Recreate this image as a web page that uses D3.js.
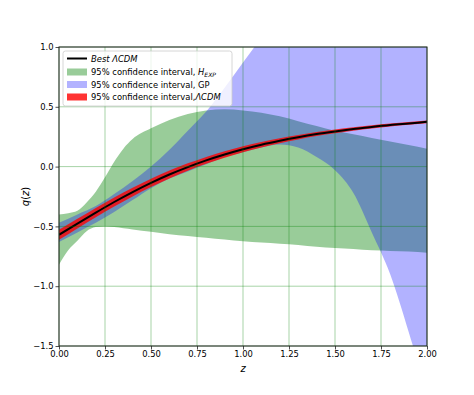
<!DOCTYPE html>
<html>
<head>
<meta charset="utf-8">
<script src="https://cdn.jsdelivr.net/npm/d3@7"></script>
<style>
  body { margin: 0; background: #fff; }
  svg text { font-family: "DejaVu Sans", sans-serif; fill: #000; }
</style>
</head>
<body>
<div id="chart"></div>
<script>
// redshift grid shared by the curves
var zs = [0, 0.1, 0.2, 0.3, 0.4, 0.5, 0.6, 0.7, 0.8, 0.9, 1.0, 1.1, 1.2, 1.3, 1.4, 1.5, 1.6, 1.7, 1.8, 1.9, 2.0];

// best fit LCDM deceleration parameter
var bestLcdm = [-0.570, -0.477, -0.385, -0.296, -0.213, -0.136, -0.066, -0.004, 0.052, 0.101, 0.145,
                0.183, 0.216, 0.246, 0.272, 0.294, 0.314, 0.332, 0.348, 0.361, 0.374];
// half width of the LCDM band
var lcdmErr = [0.042, 0.040, 0.039, 0.037, 0.036, 0.035, 0.033, 0.031, 0.029, 0.027, 0.025,
               0.023, 0.021, 0.019, 0.017, 0.016, 0.015, 0.014, 0.013, 0.012, 0.011];

// H_EXP band
var zExp = [0, 0.05, 0.1, 0.15, 0.2, 0.25, 0.3, 0.35, 0.4, 0.5, 0.6, 0.7, 0.8, 0.9, 1.0,
            1.1, 1.2, 1.3, 1.4, 1.5, 1.6, 1.7, 1.8, 1.9, 2.0];
var expUpper = [-0.40, -0.39, -0.37, -0.30, -0.21, -0.09, 0.04, 0.15, 0.23, 0.32, 0.39, 0.44, 0.47, 0.48, 0.47,
                0.45, 0.42, 0.38, 0.34, 0.30, 0.27, 0.24, 0.21, 0.18, 0.15];
var expLower = [-0.82, -0.70, -0.62, -0.54, -0.505, -0.50, -0.505, -0.515, -0.525, -0.545, -0.565, -0.58, -0.595, -0.61, -0.625,
                -0.635, -0.645, -0.655, -0.67, -0.68, -0.69, -0.70, -0.705, -0.71, -0.72];

// GP band
var gpUpper = [-0.47, -0.40, -0.33, -0.23, -0.12, 0.00, 0.14, 0.30, 0.46, 0.66, 0.87,
               1.08, 1.30, 1.52, 1.75, 1.98, 2.2, 2.4, 2.6, 2.8, 3.0];
var gpLower = [-0.63, -0.55, -0.47, -0.38, -0.28, -0.18, -0.10, -0.04, 0.02, 0.08, 0.12,
               0.16, 0.185, 0.16, 0.08, -0.03, -0.22, -0.55, -0.90, -1.38, -1.90];

var xTicks = [0, 0.25, 0.5, 0.75, 1.0, 1.25, 1.5, 1.75, 2.0];
var yTicks = [-1.5, -1.0, -0.5, 0.0, 0.5, 1.0];

var W = 474, H = 395;
var margin = {left: 59, right: 47, top: 47, bottom: 49};
var iw = W - margin.left - margin.right, ih = H - margin.top - margin.bottom;

var svg = d3.select("#chart").append("svg").attr("width", W).attr("height", H);
var g = svg.append("g").attr("transform", "translate(" + margin.left + "," + margin.top + ")");

var x = d3.scaleLinear().domain([0, 2]).range([0, iw]);
var y = d3.scaleLinear().domain([-1.5, 1.0]).range([ih, 0]);

g.append("clipPath").attr("id", "clip").append("rect").attr("width", iw).attr("height", ih);
var plot = g.append("g").attr("clip-path", "url(#clip)");

var band = function(zz, lo, hi) {
  return d3.area()
    .x(function(d, i) { return x(zz[i]); })
    .y0(function(d, i) { return y(lo[i]); })
    .y1(function(d, i) { return y(hi[i]); })
    .curve(d3.curveMonotoneX)(zz);
};

plot.append("path").attr("d", band(zExp, expLower, expUpper))
  .attr("fill", "green").attr("fill-opacity", 0.4);
plot.append("path").attr("d", band(zs, gpLower, gpUpper))
  .attr("fill", "blue").attr("fill-opacity", 0.3);

var lcdmLo = bestLcdm.map(function(v, i) { return v - lcdmErr[i]; });
var lcdmHi = bestLcdm.map(function(v, i) { return v + lcdmErr[i]; });
plot.append("path").attr("d", band(zs, lcdmLo, lcdmHi))
  .attr("fill", "red").attr("fill-opacity", 0.8);

// grid
g.append("g").selectAll("line").data(xTicks).enter().append("line")
  .attr("x1", function(d) { return x(d); }).attr("x2", function(d) { return x(d); })
  .attr("y1", 0).attr("y2", ih)
  .attr("stroke", "green").attr("stroke-opacity", 0.35).attr("stroke-width", 1);
g.append("g").selectAll("line").data(yTicks).enter().append("line")
  .attr("x1", 0).attr("x2", iw)
  .attr("y1", function(d) { return y(d); }).attr("y2", function(d) { return y(d); })
  .attr("stroke", "green").attr("stroke-opacity", 0.35).attr("stroke-width", 1);

plot.append("path")
  .attr("d", d3.line().x(function(d, i) { return x(zs[i]); }).y(function(d) { return y(d); })
    .curve(d3.curveMonotoneX)(bestLcdm))
  .attr("fill", "none").attr("stroke", "#000").attr("stroke-width", 2);

// axes
var fmtX = d3.format(".2f");
var fmtY = function(d) { return d3.format(".1f")(d).replace("-", "\u2212"); };
var xAxis = g.append("g").attr("transform", "translate(0," + ih + ")")
  .call(d3.axisBottom(x).tickValues(xTicks).tickFormat(fmtX).tickSize(3.5).tickPadding(2));
var yAxis = g.append("g")
  .call(d3.axisLeft(y).tickValues(yTicks).tickFormat(fmtY).tickSize(3.5).tickPadding(2));
[xAxis, yAxis].forEach(function(a) {
  a.select(".domain").remove();
  a.selectAll("text").attr("font-size", 8.4).attr("font-family", "DejaVu Sans").attr("fill", "#000");
  a.selectAll("line").attr("stroke", "#222").attr("stroke-width", 0.8);
});

g.append("rect").attr("width", iw).attr("height", ih)
  .attr("fill", "none").attr("stroke", "#222").attr("stroke-width", 1);

// axis labels
g.append("text").attr("x", iw / 2).attr("y", ih + 26).attr("text-anchor", "middle")
  .attr("font-size", 10).attr("font-style", "italic").text("z");
var yl = g.append("text").attr("transform", "translate(-30," + (ih / 2) + ") rotate(-90)")
  .attr("text-anchor", "middle").attr("font-size", 10);
yl.append("tspan").attr("font-style", "italic").text("q");
yl.append("tspan").text("(");
yl.append("tspan").attr("font-style", "italic").text("z");
yl.append("tspan").text(")");

// legend
var leg = g.append("g").attr("transform", "translate(4,4)");
leg.append("rect").attr("width", 169).attr("height", 55).attr("rx", 2.5)
  .attr("fill", "#fff").attr("fill-opacity", 0.8).attr("stroke", "#ccc").attr("stroke-width", 0.8);
var rowY = [7.5, 21, 33.5, 46];
leg.append("line").attr("x1", 4).attr("x2", 24).attr("y1", rowY[0]).attr("y2", rowY[0])
  .attr("stroke", "#000").attr("stroke-width", 2);
var patches = [["green", 0.4], ["blue", 0.3], ["red", 0.8]];
patches.forEach(function(p, i) {
  leg.append("rect").attr("x", 4).attr("y", rowY[i + 1] - 3.5).attr("width", 20).attr("height", 7)
    .attr("fill", p[0]).attr("fill-opacity", p[1]);
});
var tx = 28, fs = 8.4;
var t0 = leg.append("text").attr("x", tx).attr("y", rowY[0] + 3).attr("font-size", fs)
  .attr("font-style", "italic").text("Best \u039BCDM");
var t1 = leg.append("text").attr("x", tx).attr("y", rowY[1] + 3).attr("font-size", fs);
t1.append("tspan").text("95% confidence interval, ");
t1.append("tspan").attr("font-style", "italic").text("H");
t1.append("tspan").attr("font-style", "italic").attr("font-size", 6).attr("dy", 2).text("EXP");
leg.append("text").attr("x", tx).attr("y", rowY[2] + 3).attr("font-size", fs)
  .text("95% confidence interval, GP");
var t3 = leg.append("text").attr("x", tx).attr("y", rowY[3] + 3).attr("font-size", fs);
t3.append("tspan").text("95% confidence interval,");
t3.append("tspan").attr("font-style", "italic").text("\u039BCDM");
</script>
</body>
</html>
